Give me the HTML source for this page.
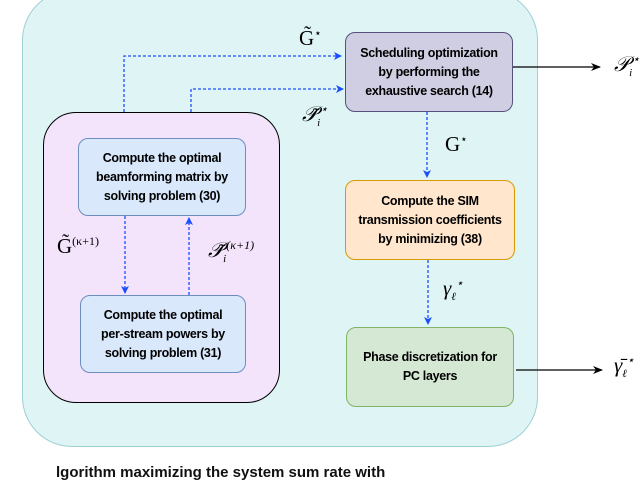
<!DOCTYPE html>
<html><head><meta charset="utf-8"><style>
body{margin:0;width:640px;height:473px;overflow:hidden;background:#fff;font-family:"Liberation Sans",sans-serif}
.b{position:absolute;box-sizing:border-box;display:flex;align-items:center;justify-content:center;text-align:center;font-weight:bold;font-size:12.5px;line-height:19px;color:#000;letter-spacing:-0.3px}
.m{position:absolute;font-family:"Liberation Serif",serif;font-size:21px;color:#000}
</style></head><body>
<div style="position:absolute;left:22px;top:-10px;width:516px;height:457px;background:#dff4f5;border:1px solid #9fd0d4;border-radius:50px;box-sizing:border-box"></div>
<div style="position:absolute;left:43px;top:112px;width:237px;height:291px;background:#f3e4fb;border:1.5px solid #000;border-radius:33px;box-sizing:border-box"></div>
<div class="b" style="left:345px;top:32px;width:168px;height:80px;background:#d0cee2;border:1.5px solid #56517e;border-radius:10px">Scheduling optimization<br>by performing the<br>exhaustive search (14)</div>
<div class="b" style="left:345px;top:180px;width:170px;height:80px;background:#ffe6cc;border:1.5px solid #d79b00;border-radius:10px">Compute the SIM<br>transmission coefficients<br>by minimizing (38)</div>
<div class="b" style="left:346px;top:327px;width:168px;height:80px;background:#d5e8d4;border:1.5px solid #82b366;border-radius:10px">Phase discretization for<br>PC layers</div>
<div class="b" style="left:78px;top:138px;width:168px;height:78px;background:#dae8fc;border:1.5px solid #6c8ebf;border-radius:10px">Compute the optimal<br>beamforming matrix by<br>solving problem (30)</div>
<div class="b" style="left:80px;top:295px;width:166px;height:78px;background:#dae8fc;border:1.5px solid #6c8ebf;border-radius:10px">Compute the optimal<br>per-stream powers by<br>solving problem (31)</div>
<svg style="position:absolute;left:0;top:0" width="640" height="473">
<defs><marker id="a" markerWidth="8" markerHeight="8" refX="7" refY="4" orient="auto" markerUnits="userSpaceOnUse"><path d="M0,0 L8,4 L0,8 L2,4z" fill="#1a4fff"/></marker>
<marker id="k" markerWidth="10" markerHeight="8" refX="9" refY="4" orient="auto" markerUnits="userSpaceOnUse"><path d="M0,0 L10,4 L0,8 L3,4z" fill="#000"/></marker></defs>
<g fill="none" stroke="#1a4fff" stroke-width="1.3" stroke-dasharray="3,2">
<path d="M124,112 V56 H341" marker-end="url(#a)"/>
<path d="M191,112 V89 H343" marker-end="url(#a)"/>
<path d="M427,112 V177" marker-end="url(#a)"/>
<path d="M428,260 V324" marker-end="url(#a)"/>
<path d="M125,216 V293" marker-end="url(#a)"/>
<path d="M189,295 V218" marker-end="url(#a)"/>
</g>
<g stroke="#000" stroke-width="1.3"><path d="M513,67 H600" marker-end="url(#k)"/><path d="M516,370 H602" marker-end="url(#k)"/></g>
</svg>
<div class="m" style="left:299px;top:26px">G̃<sup style="font-size:12px">⋆</sup></div>
<div class="m" style="left:302px;top:102px;font-style:italic">𝒫̃<sub style="font-size:11px">i</sub><sup style="font-size:12px">⋆</sup></div>
<div class="m" style="left:445px;top:132px">G<sup style="font-size:12px">⋆</sup></div>
<div class="m" style="left:57px;top:234px">G̃<sup style="font-size:12px">(κ+1)</sup></div>
<div class="m" style="left:208px;top:238px;font-style:italic">𝒫̃<sub style="font-size:11px">i</sub><sup style="font-size:12px">(κ+1)</sup></div>
<div class="m" style="left:443px;top:276px;font-style:italic">γ<sub style="font-size:11px">ℓ</sub><sup style="font-size:12px">⋆</sup></div>
<div class="m" style="left:614px;top:52px;font-style:italic">𝒫<sub style="font-size:11px">i</sub><sup style="font-size:12px">⋆</sup></div>
<div class="m" style="left:614px;top:353px;font-style:italic">γ̄<sub style="font-size:11px">ℓ</sub><sup style="font-size:12px">⋆</sup></div>
<div style="position:absolute;left:56px;top:464px;font-size:15px;font-weight:bold;color:#111;white-space:nowrap">lgorithm maximizing the system sum rate with</div>
</body></html>
